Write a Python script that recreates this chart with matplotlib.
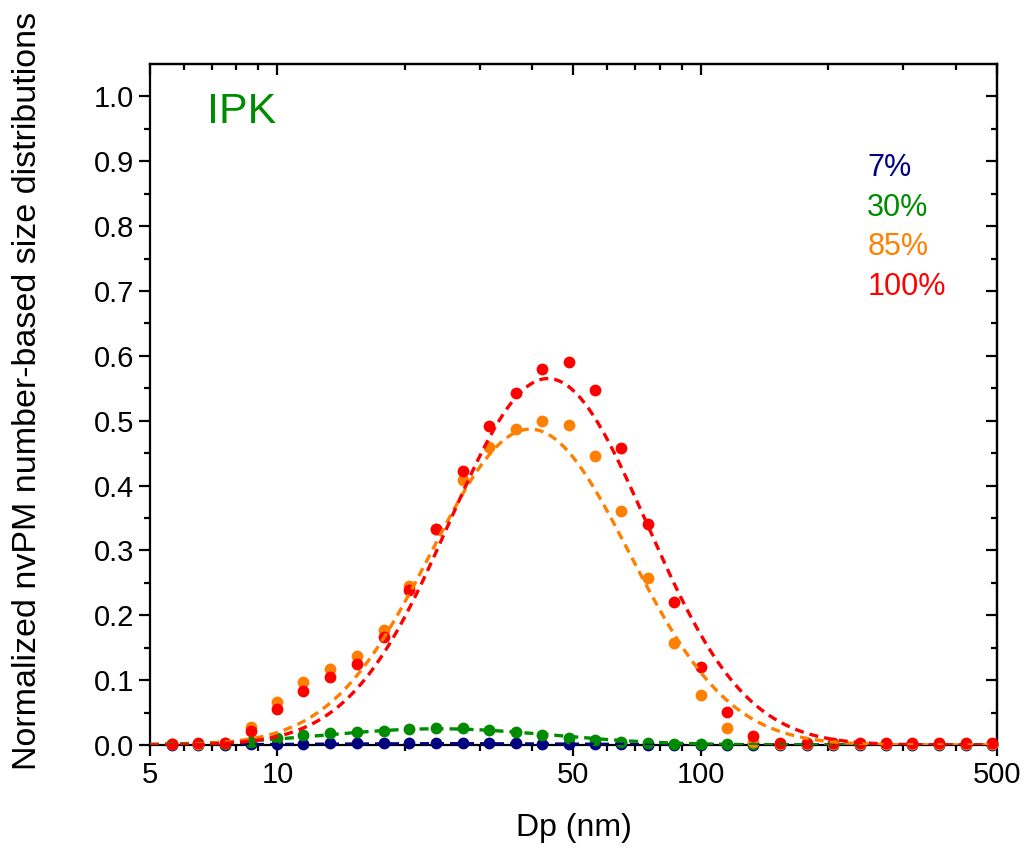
import numpy as np
import matplotlib
matplotlib.use('Agg')
import matplotlib.pyplot as plt

plt.rcParams['font.family'] = ['Liberation Sans', 'DejaVu Sans']

# SMPS bin mid-point diameters (nm)
dp = [5.62, 6.49, 7.50, 8.66, 10.0, 11.5, 13.3, 15.4, 17.8, 20.5, 23.7, 27.4,
      31.6, 36.5, 42.2, 48.7, 56.2, 64.9, 75.0, 86.6, 100, 115, 133, 154,
      178, 205, 237, 274, 316, 365, 422, 487]

n_7 = [0.000, 0.000, 0.000, 0.001, 0.002, 0.002, 0.003, 0.003, 0.003, 0.003,
       0.003, 0.003, 0.003, 0.003, 0.002, 0.002, 0.001, 0.001, 0.000, 0.000,
       0.000, 0.000, 0.000, 0.000, 0.000, 0.000, 0.000, 0.000, 0.000, 0.000,
       0.000, 0.000]
n_30 = [0.001, 0.001, 0.002, 0.005, 0.011, 0.015, 0.019, 0.020, 0.021, 0.024,
        0.026, 0.026, 0.023, 0.020, 0.016, 0.011, 0.008, 0.005, 0.003, 0.002,
        0.002, 0.001, 0.001, 0.001, 0.001, 0.001, 0.001, 0.001, 0.001, 0.001,
        0.001, 0.001]
n_85 = [0.001, 0.002, 0.003, 0.027, 0.066, 0.097, 0.117, 0.137, 0.177, 0.245,
        0.333, 0.408, 0.460, 0.487, 0.500, 0.494, 0.445, 0.361, 0.257, 0.157,
        0.077, 0.026, 0.004, 0.002, 0.001, 0.001, 0.001, 0.001, 0.001, 0.001,
        0.001, 0.001]
n_100 = [0.002, 0.003, 0.003, 0.021, 0.055, 0.084, 0.105, 0.125, 0.167, 0.239,
         0.333, 0.423, 0.492, 0.543, 0.579, 0.591, 0.548, 0.458, 0.341, 0.220,
         0.120, 0.051, 0.014, 0.003, 0.003, 0.003, 0.003, 0.003, 0.003, 0.003,
         0.003, 0.003]

# lognormal fit parameters: amplitude, Dg (nm), log10 sigma
fit_7 = (0.002, 25.0, 0.30)
fit_30 = (0.025, 24.0, 0.27)
fit_85 = (0.487, 39.5, 0.235)
fit_100 = (0.565, 43.5, 0.233)

labels = ['7%', '30%', '85%', '100%']
colors = ['#000080', '#008C00', '#FF8000', '#FF0000']


def lognormal(d, amp, dg, s):
    return amp * np.exp(-0.5 * ((np.log10(d) - np.log10(dg)) / s) ** 2)


fig = plt.figure(figsize=(10.24, 8.52), dpi=100)
ax = fig.add_axes([0.1465, 0.1256, 0.827, 0.7993])

d_fit = np.logspace(np.log10(5), np.log10(500), 400)
for vals, fit, c in zip([n_7, n_30, n_85, n_100], [fit_7, fit_30, fit_85, fit_100], colors):
    ax.plot(dp, vals, 'o', color=c, markersize=8.5, markeredgewidth=0, clip_on=False, zorder=3)
    ax.plot(d_fit, lognormal(d_fit, *fit), '--', color=c, lw=2.4, dashes=(2.7, 1.8), zorder=4)

ax.set_xscale('log')
ax.set_xlim(5, 500)
ax.set_ylim(0, 1.05)

major_x = [5, 10, 50, 100, 500]
minor_x = [6, 7, 8, 9, 20, 30, 40, 60, 70, 80, 90, 200, 300, 400]
ax.set_xticks(major_x)
ax.set_xticklabels([str(v) for v in major_x])
ax.set_xticks(minor_x, minor=True)
ax.set_xticklabels([], minor=True)
ax.set_yticks(np.arange(0, 1.01, 0.1))
ax.set_yticklabels([f'{v:.1f}' for v in np.arange(0, 1.01, 0.1)])
ax.set_yticks(np.arange(0.05, 1.05, 0.1), minor=True)

ax.tick_params(which='major', direction='out', length=8, width=1.6, labelsize=21)
ax.tick_params(which='minor', direction='out', length=4.5, width=1.6)
for sp in ax.spines.values():
    sp.set_linewidth(1.6)

# top / right ticks pointing inwards
top = ax.secondary_xaxis('top')
top.set_xticks(major_x)
top.set_xticks(minor_x, minor=True)
top.tick_params(which='major', direction='in', length=8, width=1.6, labeltop=False)
top.tick_params(which='minor', direction='in', length=4.5, width=1.6)
top.spines['top'].set_linewidth(1.6)
right = ax.secondary_yaxis('right')
right.set_yticks(np.arange(0, 1.01, 0.1))
right.set_yticks(np.arange(0.05, 1.05, 0.1), minor=True)
right.tick_params(which='major', direction='in', length=8, width=1.6, labelright=False)
right.tick_params(which='minor', direction='in', length=4.5, width=1.6)
right.spines['right'].set_linewidth(1.6)

ax.set_xlabel('Dp (nm)', fontsize=23)
ax.xaxis.set_label_coords(0.5, -0.122)
ax.set_ylabel('Normalized nvPM number-based size distributions', fontsize=24.5)
ax.yaxis.set_label_coords(-0.145, 0.52)
ax.xaxis.label.set_va('center')
ax.yaxis.label.set_va('center')

ax.text(0.067, 0.93, 'IPK', transform=ax.transAxes, color='#008C00',
        fontsize=31, va='center', ha='left')
for lab, c, y in zip(labels, colors, [0.847, 0.789, 0.731, 0.672]):
    ax.text(0.847, y, lab, transform=ax.transAxes, color=c,
            fontsize=22, va='center', ha='left')

fig.savefig('out.png', dpi=100)
